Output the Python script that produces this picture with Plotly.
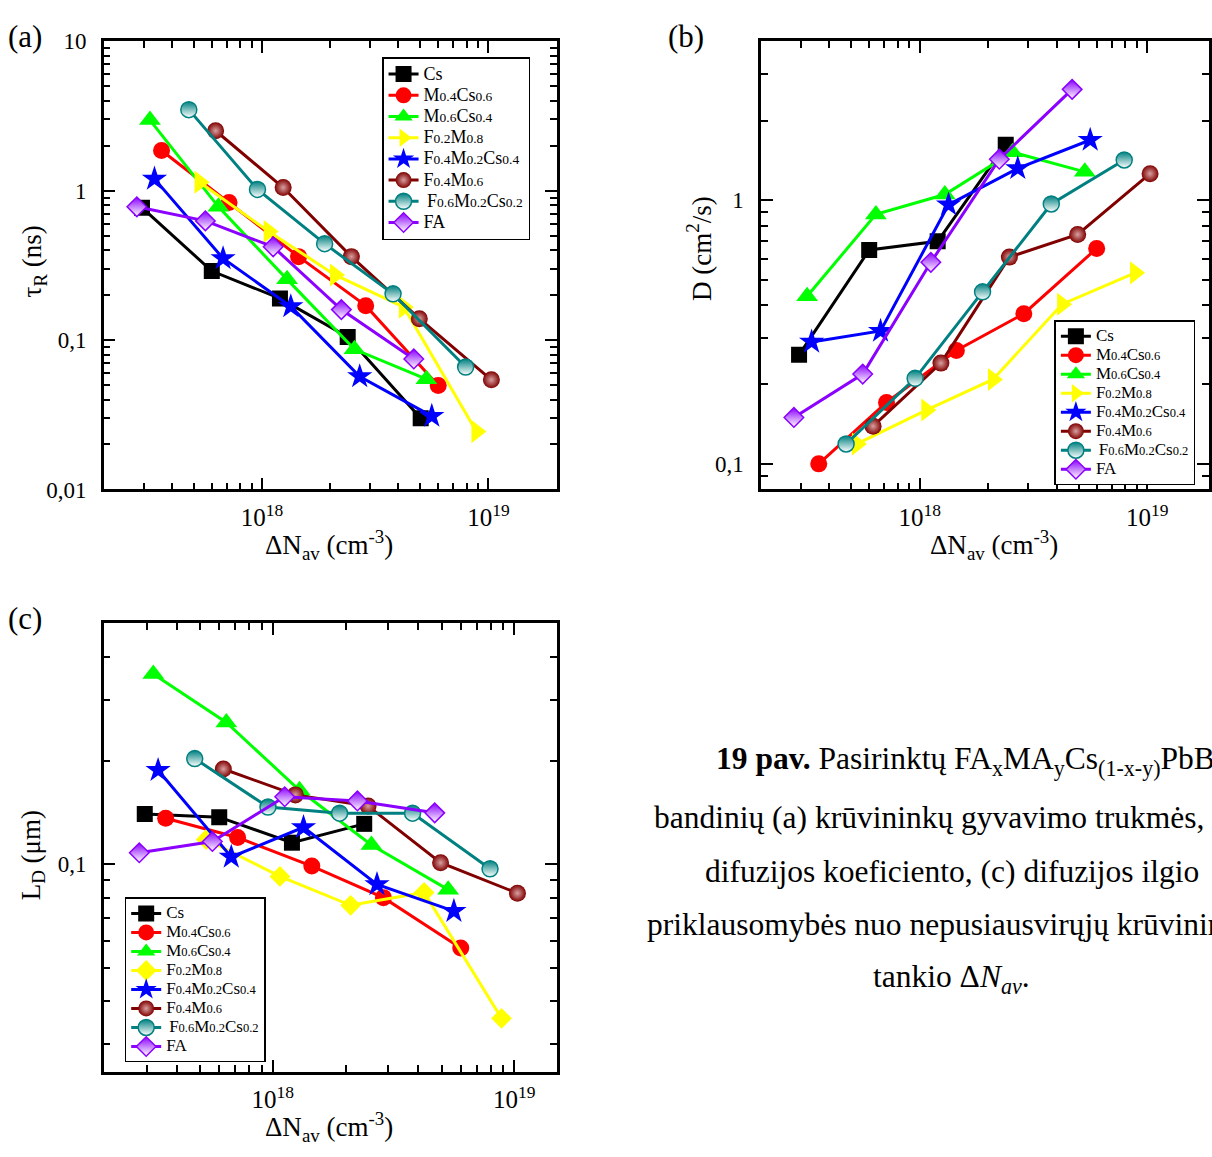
import plotly.graph_objects as go

# ---------------- data ----------------
series = ["Cs", "M0.4Cs0.6", "M0.6Cs0.4", "F0.2M0.8", "F0.4M0.2Cs0.4", "F0.4M0.6", "F0.6M0.2Cs0.2", "FA"]

# average excess carrier density ΔN_av (cm^-3) per sample
N_Cs = [2.95e17, 6.0e17, 1.2e18, 2.39e18, 5.02e18]
N_M04Cs06 = [3.6e17, 7.15e17, 1.45e18, 2.87e18, 6.0e18]
N_M06Cs04 = [3.2e17, 6.42e17, 1.29e18, 2.56e18, 5.32e18]
N_F02M08 = [5.3e17, 1.07e18, 2.1e18, 4.23e18, 8.85e18]
N_F04M02Cs04 = [3.35e17, 6.73e17, 1.34e18, 2.7e18, 5.62e18]
N_F04M06 = [6.24e17, 1.24e18, 2.48e18, 4.95e18, 1.03e19]
N_F06M02Cs02 = [4.75e17, 9.55e17, 1.89e18, 3.79e18, 7.93e18]
N_FA = [2.8e17, 5.62e17, 1.12e18, 2.24e18, 4.68e18]

# (a) recombination lifetime tau_R (ns)
tau_Cs = [0.77, 0.29, 0.19, 0.105, 0.030]
tau_M04Cs06 = [1.86, 0.835, 0.362, 0.170, 0.0497]
tau_M06Cs04 = [2.97, 0.78, 0.255, 0.0867, 0.0547]
tau_F02M08 = [1.14, 0.533, 0.273, 0.166, 0.0244]
tau_F04M02Cs04 = [1.20, 0.352, 0.168, 0.0571, 0.031]
tau_F04M06 = [2.52, 1.05, 0.362, 0.139, 0.0542]
tau_F06M02Cs02 = [3.49, 1.02, 0.442, 0.204, 0.066]
tau_FA = [0.78, 0.628, 0.421, 0.160, 0.0748]

# (b) diffusion coefficient D (cm^2/s)
D_Cs = [0.259, 0.647, 0.698, 1.62]
D_M04Cs06 = [0.100, 0.171, 0.269, 0.371, 0.656]
D_M06Cs04 = [0.432, 0.883, 1.05, 1.52, 1.28]
D_F02M08 = [0.119, 0.160, 0.209, 0.403, 0.530]
D_F04M02Cs04 = [0.290, 0.319, 0.962, 1.32, 1.69]
D_F04M06 = [0.139, 0.241, 0.608, 0.741, 1.26]
D_F06M02Cs02 = [0.119, 0.211, 0.449, 0.967, 1.42]
D_FA = [0.150, 0.219, 0.581, 1.43, 2.63]

# (c) diffusion length L_D (um)
L_Cs = [0.140, 0.137, 0.1155, 0.131]
L_M04Cs06 = [0.136, 0.1196, 0.0988, 0.080, 0.0571]
L_M06Cs04 = [0.357, 0.258, 0.164, 0.1137, 0.0844]
L_F02M08 = [0.118, 0.0922, 0.076, 0.0828, 0.0357]
L_F04M02Cs04 = [0.1875, 0.105, 0.128, 0.0874, 0.0731]
L_F04M06 = [0.189, 0.159, 0.1475, 0.101, 0.0824]
L_F06M02Cs02 = [0.2027, 0.1466, 0.1407, 0.1407, 0.097]
L_FA = [0.108, 0.1164, 0.157, 0.1527, 0.141]

N_all = [N_Cs, N_M04Cs06, N_M06Cs04, N_F02M08, N_F04M02Cs04, N_F04M06, N_F06M02Cs02, N_FA]
tau_all = [tau_Cs, tau_M04Cs06, tau_M06Cs04, tau_F02M08, tau_F04M02Cs04, tau_F04M06, tau_F06M02Cs02, tau_FA]
D_all = [D_Cs, D_M04Cs06, D_M06Cs04, D_F02M08, D_F04M02Cs04, D_F04M06, D_F06M02Cs02, D_FA]
L_all = [L_Cs, L_M04Cs06, L_M06Cs04, L_F02M08, L_F04M02Cs04, L_F04M06, L_F06M02Cs02, L_FA]

# ---------------- styles ----------------
FONT = "Liberation Serif, Times New Roman, serif"
colors = ["#000000", "#FF0000", "#00FF00", "#FFFF00", "#0000FF", "#800000", "#008080", "#8B00FF"]
symbols_ab = ["square", "circle", "triangle-up", "triangle-right", "star", "circle", "circle", "diamond"]
symbols_c = ["square", "circle", "triangle-up", "diamond", "star", "circle", "circle", "diamond"]
sizes_ab = [16, 17, 19, 20, 19, 17, 16, 15]
sizes_c = [16, 17, 19, 16, 19, 17, 16, 15]


def legend_name(name, big, small):
    out = ""
    for ch in name:
        if ch.isdigit() or ch == ".":
            out += f"<span style='font-size:{small}px'>{ch}</span>"
        else:
            out += f"<span style='font-size:{big}px'>{ch}</span>"
    if name.startswith("F0.6"):
        out = "\u00a0" + out
    return out


def marker_for(i, symbols, sizes):
    m = dict(symbol=symbols[i], size=sizes[i], color=colors[i], line=dict(width=0, color=colors[i]))
    if i == 5:
        m["gradient"] = dict(type="radial", color="#d8a0a0")
    if i in (6, 7):
        m["gradient"] = dict(type="vertical", color="#FFFFFF")
        m["line"] = dict(width=1.5, color=colors[i])
    return m


fig = go.Figure()

panels = [
    ("x", "y", tau_all, symbols_ab, sizes_ab, "legend", 18, 13.5),
    ("x2", "y2", D_all, symbols_ab, sizes_ab, "legend2", 17, 12.5),
    ("x3", "y3", L_all, symbols_c, sizes_c, "legend3", 17, 12.5),
]
for xa, ya, vals, syms, szs, leg, fbig, fsmall in panels:
    for i, name in enumerate(series):
        yv = vals[i]
        xv = N_all[i][: len(yv)]
        fig.add_trace(go.Scatter(
            x=xv, y=yv, xaxis=xa, yaxis=ya, mode="lines+markers",
            name=legend_name(name, fbig, fsmall), legend=leg,
            line=dict(color=colors[i], width=3),
            marker=marker_for(i, syms, szs),
        ))

W, H = 1212, 1157


def px_x(p):
    return p / W


def px_y(p):
    return 1 - p / H


def decade_minor(lo, hi):
    return [float(k) * 10.0 ** e for e in range(lo, hi + 1) for k in range(2, 10)]


def axis(domain, rng, tickvals, ticktext, minorvals, tfont, lstand, anchor):
    return dict(
        type="log", domain=domain, range=rng, anchor=anchor,
        showline=True, linewidth=2.5, linecolor="black", mirror="ticks",
        ticks="inside", ticklen=12, tickwidth=2, tickcolor="black",
        tickmode="array", tickvals=tickvals, ticktext=ticktext,
        minor=dict(ticks="inside", ticklen=7, tickwidth=2, tickcolor="black",
                   tickmode="array", tickvals=minorvals, showgrid=False),
        showgrid=False, zeroline=False,
        tickfont=dict(size=tfont, color="black", family=FONT),
        ticklabelstandoff=lstand,
    )


xt = [1e18, 1e19]
xtt = ["10<sup>18</sup>", "10<sup>19</sup>"]
xminor = decade_minor(17, 19)

dom_xa = [px_x(104), px_x(558)]
dom_ya = [px_y(488), px_y(30)]
dom_xb = [px_x(763), 1.0]
dom_xc = [px_x(104), px_x(558)]
dom_yc = [px_y(1083), px_y(625)]

leg_common = dict(xanchor="left", yanchor="top", bordercolor="black", borderwidth=1.5,
                  bgcolor="white")

fig.update_layout(
    width=W, height=H, margin=dict(l=0, r=0, t=0, b=0),
    paper_bgcolor="white", plot_bgcolor="white",
    font=dict(family=FONT, color="black"),
    xaxis=axis(dom_xa, [17.301, 19.301], xt, xtt, xminor, 25, 4, "y"),
    yaxis=axis(dom_ya, [-2, 1], [0.01, 0.1, 1, 10], ["0,01", "0,1", "1", "10"],
               decade_minor(-2, 0), 23, 10, "x"),
    xaxis2=axis(dom_xb, [17.303, 19.272], xt, xtt, xminor, 25, 4, "y2"),
    yaxis2=axis(dom_ya, [-1.097, 0.602], [0.1, 1], ["0,1", "1"],
                decade_minor(-2, 0), 23, 10, "x2"),
    xaxis3=axis(dom_xc, [17.30, 19.175], xt, xtt, xminor, 25, 4, "y3"),
    yaxis3=axis(dom_yc, [-1.602, -0.301], [0.1], ["0,1"],
                decade_minor(-2, -1), 23, 10, "x3"),
    legend=dict(x=px_x(383), y=px_y(46), font=dict(size=14, family=FONT, color="black"), **leg_common),
    legend2=dict(x=px_x(1057), y=px_y(315), font=dict(size=11.8, family=FONT, color="black"), **leg_common),
    legend3=dict(x=px_x(125), y=px_y(905), font=dict(size=11.8, family=FONT, color="black"), **leg_common),
    showlegend=True,
)

# axis titles
xtitle = "ΔN<sub>av</sub> (cm<sup>-3</sup>)"
titles = [
    (xtitle, 330, 545, 0),
    (xtitle, 996, 545, 0),
    (xtitle, 330, 1140, 0),
    ("τ<sub>R</sub> (ns)", 35, 255, -90),
    ("D (cm<sup>2</sup>/s)", 701, 242, -90),
    ("L<sub>D</sub> (μm)", 33, 862, -90),
]
for t, x, y, ang in titles:
    fig.add_annotation(text=t, x=px_x(x), y=px_y(y), xref="paper", yref="paper",
                       xanchor="center", yanchor="middle", showarrow=False, textangle=ang,
                       font=dict(size=27, family=FONT, color="black"))

annots = [
    ("(a)", 6, 25),
    ("(b)", 668, 25),
    ("(c)", 6, 620),
]
for t, x, y in annots:
    fig.add_annotation(text=t, x=px_x(x), y=px_y(y), xref="paper", yref="paper",
                       xanchor="left", yanchor="middle", showarrow=False,
                       font=dict(size=31, family=FONT, color="black"))

caption = [
    ("<b>19 pav.</b> Pasirinktų FA<sub>x</sub>MA<sub>y</sub>Cs<sub>(1-x-y)</sub>PbBr<sub>3</sub>", 716, 766),
    ("bandinių (a) krūvininkų gyvavimo trukmės, (b)", 654, 823),
    ("difuzijos koeficiento, (c) difuzijos ilgio", 705, 878),
    ("priklausomybės nuo nepusiausvirųjų krūvininkų", 647, 933),
    ("tankio Δ<i>N<sub>av</sub></i>.", 873, 988),
]
for t, x, y in caption:
    fig.add_annotation(text=t, x=px_x(x), y=px_y(y), xref="paper", yref="paper",
                       xanchor="left", yanchor="middle", showarrow=False,
                       font=dict(size=31.5, family=FONT, color="black"))

fig.write_html("out.html")
